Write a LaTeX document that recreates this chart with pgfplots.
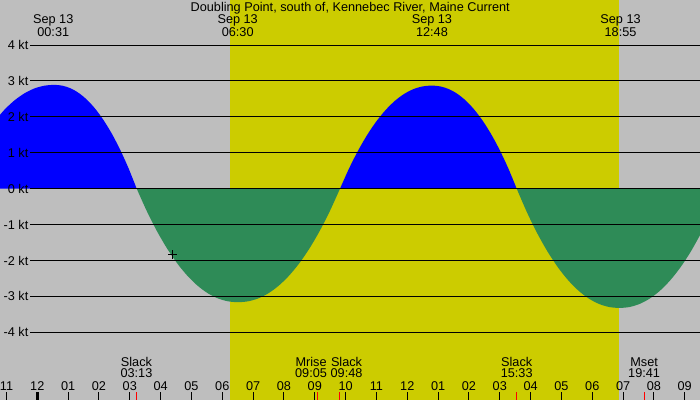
\documentclass[border=0pt]{standalone}
\usepackage{pgfplots}
\pgfplotsset{compat=1.18}
\usepackage{fontspec}
\setmainfont{Liberation Sans}
\definecolor{bg}{RGB}{190,190,190}
\definecolor{day}{RGB}{204,204,0}
\definecolor{ebb}{RGB}{46,139,87}
\begin{document}
\begin{tikzpicture}[font=\fontsize{12.7}{15}\selectfont]
\begin{axis}[
 scale only axis, width=700pt, height=400pt,
 xmin=-1.2099, xmax=21.495, ymin=-5.883, ymax=5.253,
 axis background/.style={fill=bg},
 axis line style={draw=none},
 ytick=\empty,
 xtick={-1,0,...,21},
 xticklabels={11,12,01,02,03,04,05,06,07,08,09,10,11,12,01,02,03,04,05,06,07,08,09},
 xtick pos=bottom, tick align=inside, major tick length=8.3pt,
 x tick style={black, line width=1pt},
 xticklabel style={anchor=base, yshift=9.6pt, inner sep=0pt},
 axis on top,
]
% daylight band
\addplot[fill=day, draw=none] coordinates {(6.251,-5.883) (6.251,5.253) (18.868,5.253) (18.868,-5.883)} -- cycle;
% flood 1
\addplot[fill=blue, draw=none, smooth] coordinates {
(-1.364,1.901) (-1.045,2.216) (-0.726,2.468) (-0.407,2.659) (-0.088,2.792) (0.231,2.867) (0.55,2.89)
(0.817,2.867) (1.085,2.792) (1.352,2.659) (1.620,2.468) (1.887,2.216) (2.154,1.901) (2.422,1.524) (2.689,1.081) (2.957,0.574) (3.224,0)} \closedcycle;
% ebb 1
\addplot[fill=ebb, draw=none, smooth] coordinates {
(3.224,0) (3.553,-0.627) (3.881,-1.182) (4.210,-1.666) (4.538,-2.079) (4.867,-2.423) (5.196,-2.699) (5.524,-2.908) (5.853,-3.053) (6.181,-3.135) (6.51,-3.16)
(6.841,-3.135) (7.172,-3.053) (7.502,-2.908) (7.833,-2.699) (8.164,-2.423) (8.495,-2.079) (8.826,-1.666) (9.156,-1.182) (9.487,-0.627) (9.818,0)} \closedcycle;
% flood 2
\addplot[fill=blue, draw=none, smooth] coordinates {
(9.818,0) (10.116,0.570) (10.414,1.074) (10.712,1.513) (11.010,1.888) (11.308,2.200) (11.606,2.451) (11.904,2.641) (12.202,2.772) (12.500,2.847) (12.798,2.87)
(13.073,2.847) (13.348,2.772) (13.624,2.641) (13.899,2.451) (14.174,2.200) (14.449,1.888) (14.724,1.513) (14.999,1.074) (15.275,0.570) (15.55,0)} \closedcycle;
% ebb 2
\addplot[fill=ebb, draw=none, smooth] coordinates {
(15.55,0) (15.883,-0.659) (16.216,-1.242) (16.549,-1.750) (16.882,-2.184) (17.215,-2.545) (17.548,-2.835) (17.881,-3.055) (18.214,-3.207) (18.547,-3.294) (18.88,-3.32)
(19.211,-3.294) (19.542,-3.207) (19.873,-3.055) (20.204,-2.835) (20.535,-2.545) (20.866,-2.184) (21.197,-1.750) (21.528,-1.242)} \closedcycle;
% horizontal lines
\draw[black, line width=1pt] (axis cs:-0.2368,4) -- (axis cs:21.6,4);
\draw[black, line width=1pt] (axis cs:-0.2368,3) -- (axis cs:21.6,3);
\draw[black, line width=1pt] (axis cs:-0.2368,2) -- (axis cs:21.6,2);
\draw[black, line width=1pt] (axis cs:-0.2368,1) -- (axis cs:21.6,1);
\draw[black, line width=1pt] (axis cs:-0.2368,0) -- (axis cs:21.6,0);
\draw[black, line width=1pt] (axis cs:-0.2368,-1) -- (axis cs:21.6,-1);
\draw[black, line width=1pt] (axis cs:-0.2368,-2) -- (axis cs:21.6,-2);
\draw[black, line width=1pt] (axis cs:-0.2368,-3) -- (axis cs:21.6,-3);
\draw[black, line width=1pt] (axis cs:-0.2368,-4) -- (axis cs:21.6,-4);
% y labels
\node[anchor=east, inner sep=0pt] at (axis cs:-0.285,4) {4 kt};
\node[anchor=east, inner sep=0pt] at (axis cs:-0.285,3) {3 kt};
\node[anchor=east, inner sep=0pt] at (axis cs:-0.285,2) {2 kt};
\node[anchor=east, inner sep=0pt] at (axis cs:-0.285,1) {1 kt};
\node[anchor=east, inner sep=0pt] at (axis cs:-0.285,0) {0 kt};
\node[anchor=east, inner sep=0pt] at (axis cs:-0.285,-1) {-1 kt};
\node[anchor=east, inner sep=0pt] at (axis cs:-0.285,-2) {-2 kt};
\node[anchor=east, inner sep=0pt] at (axis cs:-0.285,-3) {-3 kt};
\node[anchor=east, inner sep=0pt] at (axis cs:-0.285,-4) {-4 kt};
% special ticks
\draw[black, line width=3pt] (axis cs:0,-5.883) -- (axis cs:0,-5.652);
\draw[red, line width=1pt] (axis cs:3.217,-5.883) -- (axis cs:3.217,-5.652);
\draw[red, line width=1pt] (axis cs:9.083,-5.883) -- (axis cs:9.083,-5.652);
\draw[red, line width=1pt] (axis cs:9.8,-5.883) -- (axis cs:9.8,-5.652);
\draw[red, line width=1pt] (axis cs:15.55,-5.883) -- (axis cs:15.55,-5.652);
\draw[red, line width=1pt] (axis cs:19.683,-5.883) -- (axis cs:19.683,-5.652);
% cursor mark
\addplot[only marks, mark=+, mark size=4.5pt, mark options={line width=1pt, black}] coordinates {(4.40,-1.84)};
% top labels
\node[anchor=base, inner sep=0pt] at (axis cs:10.15,4.919) {Doubling Point, south of, Kennebec River, Maine Current};
\node[anchor=base, inner sep=0pt] at (axis cs:0.517,4.585) {Sep 13};
\node[anchor=base, inner sep=0pt] at (axis cs:0.517,4.235) {00:31};
\node[anchor=base, inner sep=0pt] at (axis cs:6.5,4.585) {Sep 13};
\node[anchor=base, inner sep=0pt] at (axis cs:6.5,4.235) {06:30};
\node[anchor=base, inner sep=0pt] at (axis cs:12.8,4.585) {Sep 13};
\node[anchor=base, inner sep=0pt] at (axis cs:12.8,4.235) {12:48};
\node[anchor=base, inner sep=0pt] at (axis cs:18.917,4.585) {Sep 13};
\node[anchor=base, inner sep=0pt] at (axis cs:18.917,4.235) {18:55};
% bottom labels
\node[anchor=base, inner sep=0pt] at (axis cs:3.217,-4.944) {Slack};
\node[anchor=base, inner sep=0pt] at (axis cs:3.217,-5.262) {03:13};
\node[anchor=base, inner sep=0pt] at (axis cs:8.88,-4.944) {Mrise};
\node[anchor=base, inner sep=0pt] at (axis cs:8.88,-5.262) {09:05};
\node[anchor=base, inner sep=0pt] at (axis cs:10.03,-4.944) {Slack};
\node[anchor=base, inner sep=0pt] at (axis cs:10.03,-5.262) {09:48};
\node[anchor=base, inner sep=0pt] at (axis cs:15.55,-4.944) {Slack};
\node[anchor=base, inner sep=0pt] at (axis cs:15.55,-5.262) {15:33};
\node[anchor=base, inner sep=0pt] at (axis cs:19.683,-4.944) {Mset};
\node[anchor=base, inner sep=0pt] at (axis cs:19.683,-5.262) {19:41};
\end{axis}
\pgfresetboundingbox
\path (current axis.south west) rectangle (current axis.north east);
\end{tikzpicture}
\end{document}
